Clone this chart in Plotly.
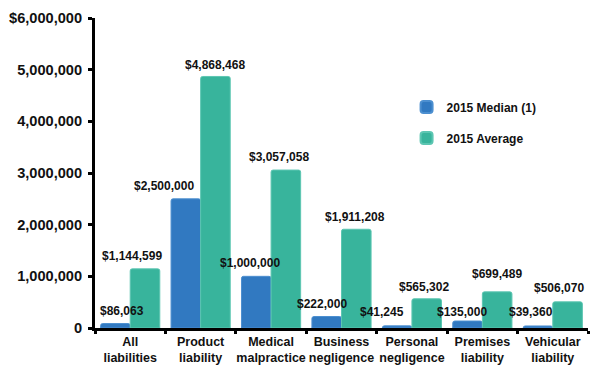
import plotly.graph_objects as go

categories = ["All<br>liabilities", "Product<br>liability", "Medical<br>malpractice",
              "Business<br>negligence", "Personal<br>negligence", "Premises<br>liability",
              "Vehicular<br>liability"]
median_2015 = [86063, 2500000, 1000000, 222000, 41245, 135000, 39360]
average_2015 = [1144599, 4868468, 3057058, 1911208, 565302, 699489, 506070]
tick_vals = [0, 1000000, 2000000, 3000000, 4000000, 5000000, 6000000]
tick_text = ["0", "1,000,000", "2,000,000", "3,000,000", "4,000,000", "5,000,000", "$6,000,000"]

# label placement nudges (pixels) to mimic the hand-placed data labels
median_label_dx = [7, -22, -6, -5, -15, -6, -7]
median_label_dy = [13, 13, 13, 13, 14, 9, 14]
average_label_dx = [-13, 0, -7, -1, -3, 0, -9]
average_label_dy = [13, 11, 13, 12, 12, 18, 14]

FONT = "Liberation Sans, Arial, sans-serif"
BLUE = "#3179C1"
TEAL = "#38B49C"
BAR_HALF_OFFSET = 14.8  # px from category centre to each bar centre

def money(v):
    return "${:,}".format(v)

fig = go.Figure()
fig.add_trace(go.Bar(
    x=categories, y=median_2015, name="2015 Median (1)", legendgroup="m",
    marker=dict(color=BLUE, line=dict(color="#4C8FD0", width=1), cornerradius=2),
))
fig.add_trace(go.Bar(
    x=categories, y=average_2015, name="2015 Average", legendgroup="a",
    marker=dict(color=TEAL, line=dict(color="#5CC6B2", width=1), cornerradius=2),
))

annotations = []
for cat, v, dx, dy in zip(categories, median_2015, median_label_dx, median_label_dy):
    annotations.append(dict(x=cat, y=v, xref="x", yref="y", text=money(v), showarrow=False,
                            xanchor="center", yanchor="middle",
                            xshift=-BAR_HALF_OFFSET + dx, yshift=dy,
                            font=dict(family=FONT, size=12, color="#111111", weight="bold")))
for cat, v, dx, dy in zip(categories, average_2015, average_label_dx, average_label_dy):
    annotations.append(dict(x=cat, y=v, xref="x", yref="y", text=money(v), showarrow=False,
                            xanchor="center", yanchor="middle",
                            xshift=BAR_HALF_OFFSET + dx, yshift=dy,
                            font=dict(family=FONT, size=12, color="#111111", weight="bold")))

fig.update_layout(
    width=592, height=363,
    margin=dict(l=87, r=12, t=10, b=43),
    paper_bgcolor="white", plot_bgcolor="white",
    barmode="group", bargap=0.16, bargroupgap=0,
    font=dict(family=FONT, size=12, color="#111111", weight="bold"),
    showlegend=True,
    annotations=annotations,
    legend=dict(x=0.632, y=0.76, xanchor="left", yanchor="top",
                font=dict(family=FONT, size=12, color="#111111", weight="bold"),
                tracegroupgap=12, itemsizing="constant", bgcolor="rgba(0,0,0,0)"),
    xaxis=dict(
        type="category", showline=True, linecolor="black", linewidth=3,
        ticks="outside", tickson="boundaries", ticklen=3, tickwidth=3, tickcolor="black",
        tickfont=dict(family=FONT, size=12.5, color="#111111", weight="bold"),
        tickangle=0, automargin=False,
        showgrid=False,
    ),
    yaxis=dict(
        range=[0, 6000000], tickvals=tick_vals, ticktext=tick_text,
        showline=True, linecolor="black", linewidth=3,
        ticks="outside", ticklen=4, tickwidth=3, tickcolor="black",
        tickfont=dict(family=FONT, size=14.6, color="#111111", weight="bold"),
        ticklabelstandoff=3,
        showgrid=False, zeroline=False, automargin=False,
    ),
)

fig.write_html("out.html")
